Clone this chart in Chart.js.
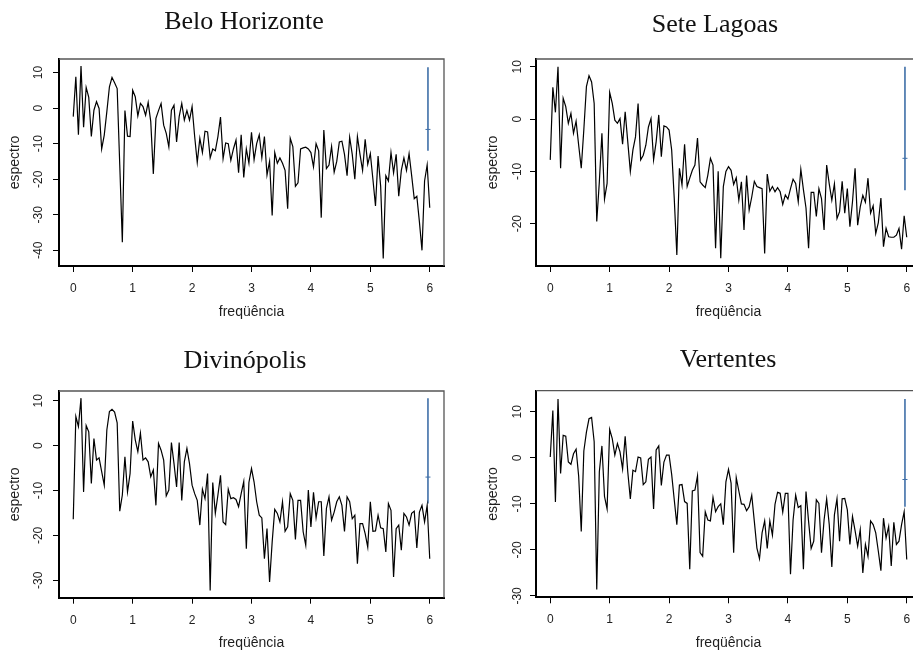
<!DOCTYPE html>
<html>
<head>
<meta charset="utf-8">
<script src="https://cdn.jsdelivr.net/npm/chart.js@4/dist/chart.umd.min.js"></script>
<style>
  html, body { margin: 0; padding: 0; background: #fff; overflow: hidden; }
  #wrap { position: relative; width: 913px; height: 653px; overflow: hidden; }
  canvas { position: absolute; }
</style>
</head>
<body>
<div id="wrap">
  <canvas id="bh" width="456" height="326" style="left:0;top:0"></canvas>
  <canvas id="sl" width="470" height="326" style="left:455px;top:0"></canvas>
  <canvas id="dv" width="456" height="327" style="left:0;top:326px"></canvas>
  <canvas id="vt" width="470" height="327" style="left:455px;top:326px"></canvas>
</div>
<script>
// frequency step: one point every 1/23 cycle, from 0 to 6
const freqStep = 1 / 23;
const xTicks = [0, 1, 2, 3, 4, 5, 6];

// log spectrum (dB), one value per frequency
const beloHorizonte = [
  -2.4, 8.8, -7.5, 11.8, -5.4, 5.8, 3, -8, -0.6, 1.8,
  -0.1, -11.5, -7.6, -1, 6, 8.6, 7.1, 5.5, -16, -37.7,
  -0.7, -7.9, -8, 5, 3.2, -2.2, 1.3, 0.4, -2, 1.6,
  -3.8, -18.5, -2.9, -0.7, 1.3, -4.8, -7.1, -10.9, -0.6, 0.8,
  -9.5, -2.4, 1.3, -3.4, -0.7, -3.4, 0.4, -8, -15.3, -8.5,
  -12.5, -6.5, -6.7, -14, -11.5, -12, -8, -2.5, -14.2, -9.8,
  -10, -14.7, -11.5, -9, -18.2, -7.5, -19.5, -11.5, -15.5, -6.8,
  -14.5, -10, -7.5, -14, -8, -18.8, -15, -30.2, -12.5, -15.5,
  -14, -15.5, -17.5, -28.3, -8.5, -10.8, -22, -21, -11.5, -11.2,
  -11, -11.5, -12.5, -16.5, -10, -12, -30.8, -6.2, -17, -16,
  -10.8, -18, -15, -9.5, -9.3, -13, -19, -8.2, -13, -20,
  -8, -13, -17.5, -8.8, -15.8, -12.8, -20, -27.5, -13.5, -22,
  -42.3, -19, -20.5, -12.5, -18.2, -13, -24.8, -17.5, -14, -17.5,
  -12.8, -19, -25.5, -24.8, -32, -40, -20.5, -16, -28
];
const seteLagoas = [
  -7.8, 6.1, 1.3, 10, -9.4, 4, 2.4, -0.8, 1.1, -2.7,
  -0.4, -5, -9.4, -2, 6.2, 8.3, 7.1, 3, -19.6, -12,
  -2.7, -15.3, -12.3, 5.1, 3, -0.2, -0.8, 0.1, -4.8, 1.4,
  -4.3, -10, -5.9, -3.4, 3, -7.8, -6.9, -5, -1.5, 0.1,
  -7.8, -4.3, 0.8, -7.2, -1.3, -1.5, -2.1, -5.9, -15.2, -26,
  -9.4, -12.6, -4.8, -12.9, -11.3, -9.8, -8.8, -3.6, -12, -12.6,
  -13.1, -10.7, -7.5, -8.8, -24.7, -10, -26.6, -12.9, -10, -9.1,
  -9.8, -12.5, -11.2, -15.5, -12, -21.2, -10.8, -17.4, -14.9, -11.9,
  -12.9, -13.1, -13.3, -25.7, -10.5, -13.8, -12.9, -13.9, -13.1, -13.9,
  -16.3, -14.5, -15.3, -13.3, -11.5, -12.3, -15.8, -9.6, -13.5, -17,
  -24.7, -14, -14, -18.6, -13.3, -15.2, -21.2, -8.8, -12.4, -15.5,
  -12.4, -19, -17.7, -11.9, -18, -13.3, -20.6, -15.8, -9.4, -20.3,
  -16.8, -14.6, -15.9, -11.3, -18, -16.6, -21.9, -19.8, -15.1, -24.4,
  -20.9, -22.5, -22.6, -22.6, -22.2, -20.9, -24.9, -18.5, -22.6
];
const divinopolis = [
  -16.4, 6.5, 4.3, 10.6, -10.3, 4.5, 3.1, -8.4, 1.6, -3.2,
  -2.7, -5.8, -8.8, 3.5, 7.6, 8.1, 7.5, 5.1, -14.6, -11,
  -2.5, -10.3, -6.2, 5.5, 1.3, -1.3, 2.8, -3.2, -2.7, -3.6,
  -6.9, -5.4, -13.3, 0.5, -1, -3.2, -11.2, -9.9, 0.7, -4,
  -9.2, 0.7, -12.2, -3.6, -0.6, -4, -8.8, -10.7, -12.2, -17.7,
  -9.7, -11.8, -6.2, -32.3, -8.2, -15.1, -11, -6.6, -17, -17.6,
  -9.7, -11.8, -11.6, -12, -13.6, -10.7, -8, -23, -8.2, -5.1,
  -8.1, -12.5, -15.5, -16.1, -25.2, -18.5, -30.4, -21.5, -14.2, -15.1,
  -17, -12.5, -19.1, -18.1, -10.7, -12.2, -20.9, -12.2, -12.2, -19.2,
  -22.2, -9.9, -18.1, -10.4, -16.1, -12.5, -12.5, -24.6, -14, -11.4,
  -16.6, -14.8, -12.5, -11.4, -13.3, -19.1, -11.4, -12.5, -16.3, -15.5,
  -26.3, -17.4, -17.4, -19.6, -22.6, -12.5, -19.1, -19, -15.5, -18.3,
  -18.5, -23.7, -12.9, -14.4, -29.3, -18.5, -17.7, -23.3, -15.1, -15.9,
  -17.7, -15.1, -14.6, -22.8, -14.8, -13.3, -17, -13.3, -25.2
];
const vertentes = [
  0.2, 10.3, -9.6, 12.8, -3.4, 4.9, 4.7, -0.9, -1.4, 0.9,
  1.9, -4, -16, 1.5, 5.6, 8.5, 8.8, 3.5, -28.6, -3,
  2.6, -8.4, -11.1, 6.2, 4.2, 0.6, 3.1, 1.3, -2.4, 4.7,
  -3, -8.9, -2.7, -3, 0.2, 0, -5.8, -5.2, -0.3, 0.2,
  -11.1, 1.7, 2.6, -6, -0.9, 0.6, 0.6, -3.6, -9.1, -14.5,
  -5.9, -5.8, -9.5, -9.9, -24.2, -7.2, -7, -3.9, -20.6, -21.4,
  -11.7, -13.5, -13.7, -8.6, -11.7, -10.6, -10, -14.5, -5.2, -2.5,
  -5.5, -20.6, -4.3, -7.2, -10, -10.1, -11.5, -10.6, -8.1, -13.8,
  -19.6, -21.9, -16.3, -13.7, -19.7, -13.7, -16.8, -10.1, -7.5, -7.7,
  -11.8, -7.7, -7.7, -25.3, -13.5, -8.1, -10.8, -10.4, -24.2, -7.3,
  -13.8, -19.7, -18.1, -9.1, -9.9, -20.6, -13.5, -8.9, -14.5, -23.7,
  -12.4, -8.9, -18.1, -8.9, -8.8, -11.3, -18.8, -12.7, -15.8, -19.2,
  -15.6, -25, -18.8, -21.4, -13.7, -14.5, -16.3, -20.3, -24.5, -13.1,
  -17.4, -14.9, -23.5, -14, -18.8, -18.1, -14.5, -11.7, -22.1
];

// tick labels of each y axis
const yTicksBH = [-40, -30, -20, -10, 0, 10];
const yTicksSL = [-20, -10, 0, 10];
const yTicksDV = [-30, -20, -10, 0, 10];
const yTicksVT = [-30, -20, -10, 0, 10];

// confidence bar drawn near the right edge: top, centre, bottom
const ciFreq = 5.97;
const ciBH = [11.5, -6, -12];
const ciSL = [10, -7.5, -13.6];
const ciDV = [10.6, -7, -12.9];
const ciVT = [12.8, -4.7, -10.6];

const sansFont = '"Liberation Sans", Arial, sans-serif';
const textColor = '#1e1e1e';

// panel title, placed by hand
const panelTitle = {
  id: 'panelTitle',
  afterDraw(chart, args, o) {
    const ctx = chart.ctx;
    ctx.save();
    ctx.font = '26px "Liberation Serif", "Times New Roman", serif';
    ctx.fillStyle = '#111';
    ctx.textAlign = 'center';
    ctx.textBaseline = 'middle';
    ctx.fillText(o.text, o.x, o.y);
    ctx.restore();
  }
};

// top and right sides of the box (left/bottom come from the axes)
const plotBox = {
  id: 'plotBox',
  afterDatasetsDraw(chart) {
    const { ctx, chartArea: a } = chart;
    ctx.save();
    ctx.strokeStyle = '#555';
    ctx.lineWidth = 1.3;
    ctx.beginPath();
    ctx.moveTo(a.left, a.top);
    ctx.lineTo(a.right, a.top);
    ctx.lineTo(a.right, a.bottom);
    ctx.stroke();
    ctx.restore();
  }
};

function makePanel(id, title, values, yTicks, ci, lay) {
  const points = values.map((v, k) => ({ x: k * freqStep, y: v }));
  const ciPoints = ci.map(v => ({ x: ciFreq, y: v }));

  return new Chart(document.getElementById(id).getContext('2d'), {
    type: 'line',
    data: {
      datasets: [{
        data: points,
        borderColor: '#000',
        borderWidth: 1.2,
        pointRadius: 0,
        tension: 0
      }, {
        data: ciPoints,
        borderColor: '#3f6fa8',
        borderWidth: 1.6,
        pointStyle: 'line',
        pointRadius: [0, 2.5, 0],
        pointBorderColor: '#3f6fa8',
        pointBorderWidth: 1,
        tension: 0
      }]
    },
    options: {
      responsive: false,
      animation: false,
      events: [],
      layout: { padding: { left: lay.padLeft, right: lay.padRight, top: lay.padTop, bottom: 0 } },
      plugins: {
        legend: { display: false },
        tooltip: { enabled: false },
        panelTitle: { text: title, x: lay.titleX, y: lay.titleY }
      },
      scales: {
        x: {
          type: 'linear',
          min: -0.24,
          max: 6.24,
          afterBuildTicks: s => { s.ticks = xTicks.map(v => ({ value: v })); },
          afterFit: s => { s.height = lay.xAxisH; },
          ticks: {
            autoSkip: false,
            maxRotation: 0,
            padding: lay.xTickPad,
            color: textColor,
            font: { family: sansFont, size: 12 }
          },
          grid: { drawOnChartArea: false, drawTicks: true, tickLength: 6, color: '#000', tickColor: '#000' },
          border: { display: true, color: '#000', width: 2 },
          title: {
            display: true,
            text: 'freqüência',
            color: textColor,
            font: { family: sansFont, size: 14 },
            padding: { top: 0, bottom: lay.xTitlePad }
          }
        },
        y: {
          type: 'linear',
          min: lay.yMin,
          max: lay.yMax,
          afterBuildTicks: s => { s.ticks = yTicks.map(v => ({ value: v })); },
          afterFit: s => { s.width = lay.yAxisW; },
          ticks: {
            autoSkip: false,
            minRotation: 90,
            maxRotation: 90,
            crossAlign: 'center',
            padding: lay.yTickPad,
            color: textColor,
            font: { family: sansFont, size: 12 }
          },
          grid: { drawOnChartArea: false, drawTicks: true, tickLength: 6, color: '#000', tickColor: '#000' },
          border: { display: true, color: '#000', width: 2 },
          title: {
            display: true,
            text: 'espectro',
            color: textColor,
            font: { family: sansFont, size: 14 },
            padding: { top: 6.6, bottom: 0 }
          }
        }
      }
    },
    plugins: [panelTitle, plotBox]
  });
}

makePanel('bh', 'Belo Horizonte', beloHorizonte, yTicksBH, ciBH, {
  padLeft: 0, padRight: 12, padTop: 59, yAxisW: 59, xAxisH: 60,
  yMin: -44.4, yMax: 13.8, yTickPad: 6, xTickPad: 9, xTitlePad: 5.6,
  titleX: 244, titleY: 22
});
makePanel('sl', 'Sete Lagoas', seteLagoas, yTicksSL, ciSL, {
  padLeft: 23, padRight: 4, padTop: 59, yAxisW: 58, xAxisH: 60,
  yMin: -28.1, yMax: 11.5, yTickPad: 4, xTickPad: 9, xTitlePad: 5.6,
  titleX: 260, titleY: 25
});
makePanel('dv', 'Divinópolis', divinopolis, yTicksDV, ciDV, {
  padLeft: 0, padRight: 12, padTop: 65, yAxisW: 59, xAxisH: 55.3,
  yMin: -33.9, yMax: 12.2, yTickPad: 6, xTickPad: 10, xTitlePad: 1.6,
  titleX: 245, titleY: 35
});
makePanel('vt', 'Vertentes', vertentes, yTicksVT, ciVT, {
  padLeft: 23, padRight: 4, padTop: 64.7, yAxisW: 58, xAxisH: 55.7,
  yMin: -30.3, yMax: 14.6, yTickPad: 4, xTickPad: 9.5, xTitlePad: 1.6,
  titleX: 273, titleY: 34
});
</script>
</body>
</html>
